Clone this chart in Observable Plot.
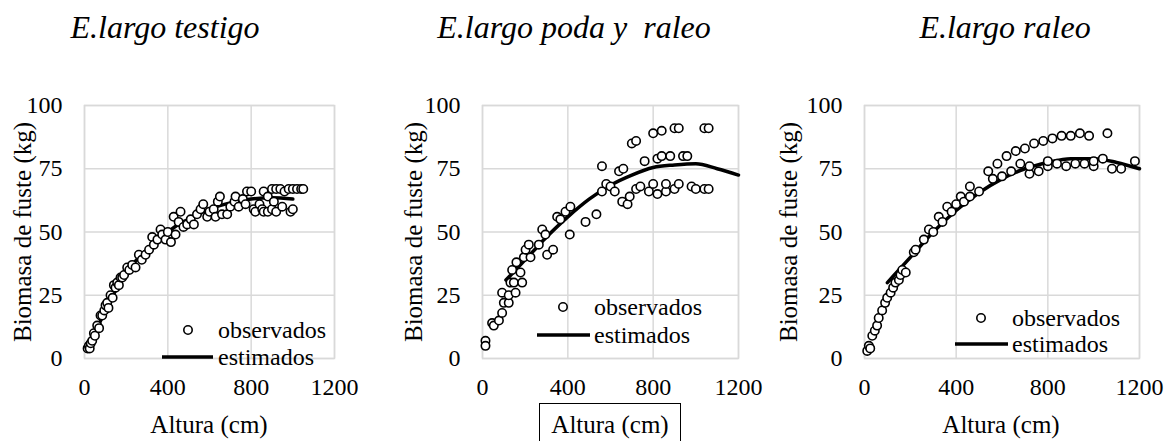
<!DOCTYPE html>
<html><head><meta charset="utf-8">
<style>
body{margin:0;background:#fff;font-family:'Liberation Serif';}
#root{position:relative;width:1165px;height:441px;overflow:hidden;color:#000;background:#fff;font-family:'Liberation Serif';}
.title{position:absolute;font-style:italic;font-size:32px;white-space:pre;transform:translate(-50%,-50%);line-height:1;}
.xlab{position:absolute;font-size:25px;white-space:pre;transform:translate(-50%,-50%);line-height:1;}
.ylab{position:absolute;font-size:25px;white-space:pre;transform:translate(-50%,-50%) rotate(-90deg);line-height:1;}
.box{position:absolute;border:1.5px solid #000;box-sizing:border-box;}
.panel{position:absolute;top:60px;}
#legend{position:absolute;left:0;top:0;}
</style>
<script src="https://cdn.jsdelivr.net/npm/d3@7"></script>
<script src="https://cdn.jsdelivr.net/npm/@observablehq/plot@0.6"></script>
</head>
<body><div id="root">
<div class="title" style="left:165px;top:27px;font-family:'Liberation Serif'">E.largo testigo</div>
<div class="title" style="left:574px;top:27px;font-family:'Liberation Serif'">E.largo poda y  raleo</div>
<div class="title" style="left:1005px;top:27px;font-family:'Liberation Serif'">E.largo raleo</div>
</div>
<script>
const FONT = "Liberation Serif";
// ---- tick labels & text
const xTicks = [0, 400, 800, 1200];
const yTicks = [0, 25, 50, 75, 100];
const xLabel = "Altura (cm)";
const yLabel = "Biomasa de fuste (kg)";
const seriesNames = ["observados", "estimados"];

// ---- E.largo testigo
const testigoAltura = [15,21,25,30,37,45,50,61,70,77,85,95,101,109,115,125,135,141,149,157,165,173,181,190,205,215,229,245,261,275,293,310,325,333,350,365,373,389,400,415,428,437,452,461,475,493,510,525,540,557,570,589,600,620,629,640,650,660,685,700,720,725,740,760,773,780,800,812,820,840,853,860,860,880,880,900,900,909,920,920,940,949,960,980,989,1000,1000,1020,1040,1050];
const testigoBiomasa = [4,5,4,6,7,10,9,13,12,17,17,19,21,22,20,25,24,29,28,30,29,32,32,33,36,35,37,36,41,39,41,43,48,45,47,51,49,47,50,46,56,49,54,58,52,53,55,53,57,59,61,56,58,59,56,62,64,57,57,60,62,64,60,63,61,66,66,59,58,61,59,66,58,64,58,67,59,62,67,58,67,60,66,67,58,67,59,67,67,67];
const testigoEstAltura = [10,50,100,150,200,250,300,350,400,450,500,600,700,800,900,1000];
const testigoEstBiomasa = [3,10,19,27,34,39,43,47,50,53,55,59,61.5,63,63.5,63];

// ---- E.largo poda y raleo
const podaAltura = [14,14,45,53,77,92,100,123,92,123,131,155,147,186,139,178,159,194,225,202,217,264,280,295,303,331,350,365,389,412,409,483,534,560,560,580,600,620,640,655,660,680,690,700,720,720,740,760,780,800,800,820,820,840,840,860,860,880,900,900,920,920,940,960,980,1000,1040,1060,1040,1060];
const podaBiomasa = [7,5,14,13,15,18,22,22,26,25,30,26,30,30,35,34,38,40,40,43,45,45,51,49,41,43,56,55,58,60,49,54,57,76,66,69,68,66,74,62,75,61,64,85,86,67,68,78,66,89,69,79,65,80,90,66,69,80,91,67,91,69,80,80,68,67,91,91,67,67];
const podaEstAltura = [110,150,200,250,300,400,500,600,700,800,900,1000,1100,1200];
const podaEstBiomasa = [31,34.5,39,43.5,48,56,63,68.5,72.5,75.5,76.5,77,75,72.5];

// ---- E.largo raleo
const raleoAltura = [12,19,25,34,45,55,62,77,90,99,114,125,135,150,157,165,180,215,223,259,281,300,324,340,361,380,400,420,434,460,460,500,540,560,580,600,620,640,660,680,700,720,720,740,760,780,800,800,820,840,860,880,900,920,940,960,980,1000,1000,1040,1060,1080,1120,1180];
const raleoBiomasa = [3,5,4,9,11,13,16,19,22,24,26,28,30,31,33,35,34,42,43,47,51,50,56,54,60,58,61,64,62,68,64,66,74,71,77,72,80,74,82,77,83,73,76,85,74,86,76,78,87,77,88,76,88,77,89,77,88,76,78,79,89,75,75,78];
const raleoEstAltura = [100,150,200,300,400,500,600,700,800,900,1000,1100,1200];
const raleoEstBiomasa = [30,35,40,50,58.5,65.5,71,75,77.5,79,79,77.5,75];

// ---- layout (pixels)
const panels = [
  {left:0,   width:390, ml:84, mr:56, h:testigoAltura, v:testigoBiomasa, eh:testigoEstAltura, ev:testigoEstBiomasa,
   yLabX:22, xLabX:209, leg:{cx:188, oy:330, lx1:162, lx2:213, ly:357, tx:218}},
  {left:390, width:390, ml:92, mr:42, h:podaAltura, v:podaBiomasa, eh:podaEstAltura, ev:podaEstBiomasa,
   yLabX:413, xLabX:610, box:true, leg:{cx:563, oy:307, lx1:537, lx2:590, ly:335, tx:594}},
  {left:780, width:385, ml:84, mr:26, h:raleoAltura, v:raleoBiomasa, eh:raleoEstAltura, ev:raleoEstBiomasa,
   yLabX:788, xLabX:1001, leg:{cx:981, oy:318, lx1:955, lx2:1008, ly:344, tx:1012}}
];
const SVG_H = 381, M_TOP = 45, M_BOTTOM = 83;
const root = document.getElementById("root");

function addDiv(cls, text, x, y) {
  const d = document.createElement("div");
  d.className = cls; d.textContent = text;
  d.style.left = x + "px"; d.style.top = y + "px";
  d.style.fontFamily = "'Liberation Serif'";
  root.appendChild(d);
  return d;
}

panels.forEach((p, i) => {
  const obs = p.h.map((h, k) => ({h, v: p.v[k]}));
  const est = p.eh.map((h, k) => ({h, v: p.ev[k]}));
  const chart = Plot.plot({
    width: p.width, height: SVG_H,
    marginLeft: p.ml, marginRight: p.mr, marginTop: M_TOP, marginBottom: M_BOTTOM,
    style: {fontFamily: "'Liberation Serif'", fontSize: "24px", color: "#000", background: "transparent", overflow: "visible"},
    x: {domain: [0, 1200], ticks: xTicks, tickSize: 0, tickPadding: 19, tickFormat: "d", label: null},
    y: {domain: [0, 100], ticks: yTicks, tickSize: 0, tickPadding: 22, tickFormat: "d", label: null},
    marks: [
      Plot.ruleX(xTicks, {stroke: "#d9d9d9", strokeWidth: 1.5}),
      Plot.ruleY(yTicks, {stroke: "#d9d9d9", strokeWidth: 1.5}),
      Plot.frame({stroke: "#d9d9d9", strokeWidth: 1.5}),
      Plot.line(est, {x: "h", y: "v", stroke: "#000", strokeWidth: 3.5, curve: "monotone-x"}),
      Plot.dot(obs, {x: "h", y: "v", r: 4.2, stroke: "#000", strokeWidth: 1.6, fill: "#fff"})
    ]
  });
  const wrap = document.createElement("div");
  wrap.className = "panel";
  wrap.style.left = p.left + "px";
  wrap.appendChild(chart);
  root.appendChild(wrap);

  addDiv("ylab", yLabel, p.yLabX, 232);
  addDiv("xlab", xLabel, p.xLabX, 424);

  if (p.box) {
    const b = document.createElement("div");
    b.className = "box";
    b.style.left = (p.xLabX - 71) + "px"; b.style.top = "403px";
    b.style.width = "142px"; b.style.height = "46px";
    root.appendChild(b);
  }
});

// ---- legends
const lsvg = d3.select(root).append("svg").attr("id", "legend").attr("width", 1165).attr("height", 441)
  .style("font-family", "'Liberation Serif'").attr("font-size", 24);
panels.forEach(p => {
  const L = p.leg;
  lsvg.append("circle").attr("cx", L.cx).attr("cy", L.oy).attr("r", 4.2)
    .attr("fill", "#fff").attr("stroke", "#000").attr("stroke-width", 1.6);
  lsvg.append("text").attr("x", L.tx).attr("y", L.oy).attr("dy", "0.32em").text(seriesNames[0]);
  lsvg.append("line").attr("x1", L.lx1).attr("x2", L.lx2).attr("y1", L.ly).attr("y2", L.ly)
    .attr("stroke", "#000").attr("stroke-width", 3.5);
  lsvg.append("text").attr("x", L.tx).attr("y", L.ly).attr("dy", "0.32em").text(seriesNames[1]);
});
</script>
</body></html>
